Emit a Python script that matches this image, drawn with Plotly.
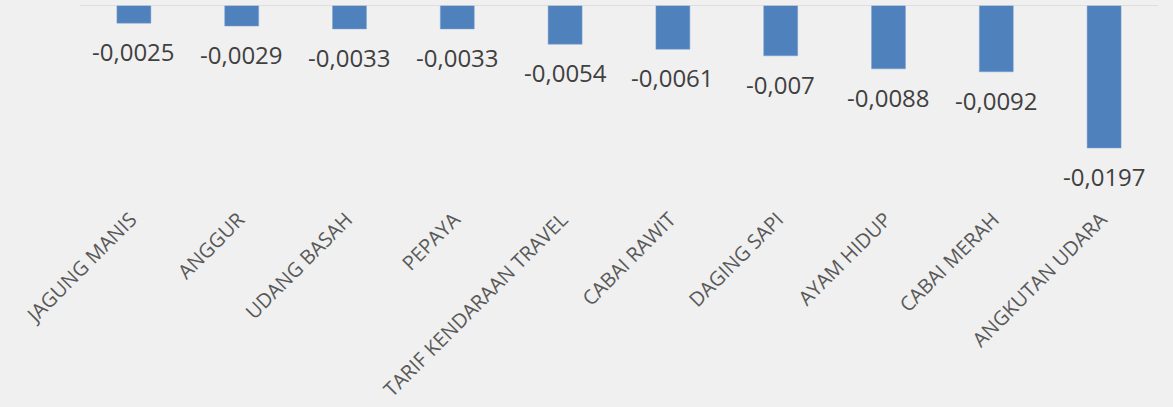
import plotly.graph_objects as go

categories = ["JAGUNG MANIS", "ANGGUR", "UDANG BASAH", "PEPAYA", "TARIF KENDARAAN TRAVEL",
              "CABAI RAWIT", "DAGING SAPI", "AYAM HIDUP", "CABAI MERAH", "ANGKUTAN UDARA"]
values = [-0.0025, -0.0029, -0.0033, -0.0033, -0.0054, -0.0061, -0.007, -0.0088, -0.0092, -0.0197]
labels = ["-0,0025", "-0,0029", "-0,0033", "-0,0033", "-0,0054", "-0,0061", "-0,007",
          "-0,0088", "-0,0092", "-0,0197"]

FONT = "Open Sans"
BG = "#f0f0f0"

fig = go.Figure(go.Bar(
    x=categories, y=values,
    marker=dict(color="#4f81bd", line=dict(color="#7fa3d0", width=0.5)),
    hoverinfo="skip",
))

for c, v, t in zip(categories, values, labels):
    fig.add_annotation(x=c, y=v, text=t, showarrow=False, yanchor="top",
                       yshift=-10, font=dict(family=FONT, size=24, color="#404040"))

fig.add_shape(type="line", xref="paper", yref="y", x0=0, x1=1, y0=0, y1=0,
              line=dict(color="#d9d9d9", width=1.5))

fig.update_layout(
    width=1173, height=407,
    paper_bgcolor=BG, plot_bgcolor=BG,
    margin=dict(l=80, r=15, t=5, b=204),
    bargap=0.685,
    showlegend=False,
    font=dict(family=FONT),
)
fig.update_xaxes(tickangle=-45, tickfont=dict(family=FONT, size=20, color="#595959"),
                 showline=False, showgrid=False, ticks="", ticklabelshift=-3,
                 automargin=False)
fig.update_yaxes(range=[-0.02728, 0], visible=False, showgrid=False, zeroline=False,
                 automargin=False)

fig.write_html("out.html", config={"displayModeBar": False},
               post_script="document.body.style.margin='0';document.body.style.background='#f0f0f0';")
